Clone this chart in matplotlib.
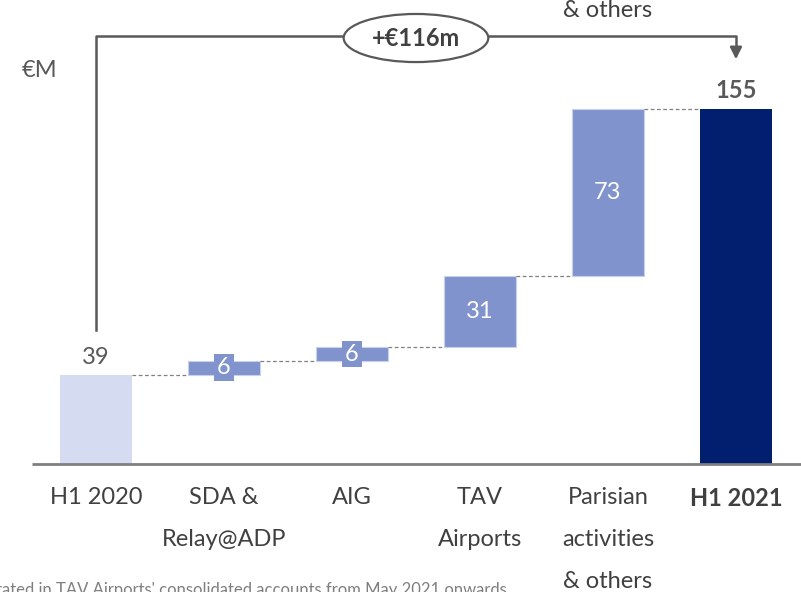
import matplotlib.pyplot as plt
from matplotlib.patches import Ellipse

plt.rcParams['font.family'] = ['Lato', 'DejaVu Sans']

categories = ["H1 2020", "SDA &\nRelay@ADP", "AIG", "TAV\nAirports",
              "Parisian\nactivities\n& others", "H1 2021"]
start_value = 39
deltas = [6, 6, 31, 73]
end_value = 155
total_change = "+€116m"
unit = "€M"
footnote = "AIG integrated in TAV Airports' consolidated accounts from May 2021 onwards"

light = "#D5DBF0"
mid = "#8093CD"
dark = "#021E6E"
grey = "#595959"
fs = 17

fig = plt.figure(figsize=(8.01, 5.92), dpi=100)
ax = fig.add_axes([0, 0, 1, 1])
ax.set_xlim(-0.75, 5.508)
ax.set_ylim(-55.9, 202.6)
ax.axis("off")

w = 0.5625
n = len(categories)

# start and end bars
ax.bar(0, start_value, width=w, color=light)
ax.bar(n - 1, end_value, width=w, color=dark)
ax.text(0, start_value + 3, str(start_value), ha="center", va="bottom",
        fontsize=fs, color=grey)
ax.text(n - 1, end_value + 3, str(end_value), ha="center", va="bottom",
        fontsize=fs, color=grey, fontweight="bold")

# floating delta bars
level = start_value
for i, d in enumerate(deltas, start=1):
    ax.bar(i, d, bottom=level, width=w, color=mid, edgecolor="#C8D0EC", lw=0.8)
    mid_y = level + d / 2
    box = dict(boxstyle="square,pad=0.12", fc=mid, ec="none") if d < 10 else None
    ax.text(i, mid_y, str(d), ha="center", va="center", fontsize=fs,
            color="white", bbox=box)
    # connector from previous bar
    ax.plot([i - 1 + w / 2, i - w / 2], [level, level], ls=(0, (3, 2)),
            color="#808080", lw=0.9)
    level += d
ax.plot([n - 2 + w / 2, n - 1 - w / 2], [level, level], ls=(0, (3, 2)),
        color="#808080", lw=0.9)

# baseline
ax.plot([-0.5, 5.6], [0, 0], color="#7F7F7F", lw=2, solid_capstyle="butt")

# category labels
for i, c in enumerate(categories):
    ax.text(i, -10.2, c, ha="center", va="top", fontsize=fs, color="#404040",
            linespacing=2.22, fontweight="bold" if i == n - 1 else "normal")

# bracket with total change
top = 186.9
ax.plot([0, 0, n - 1, n - 1], [58.5, top, top, 181], color=grey, lw=1.8)
ax.annotate("", xy=(n - 1, 175.5), xytext=(n - 1, 182),
            arrowprops=dict(arrowstyle="-|>,head_width=0.35,head_length=0.7",
                            color=grey, lw=1.8))
ax.add_patch(Ellipse((2.5, 186), 1.13, 21.0, fc="white", ec=grey, lw=1.6,
                     zorder=3))
ax.text(2.5, 186, total_change, ha="center", va="center", fontsize=fs,
        fontweight="bold", color="#404040", zorder=4)

ax.text(-0.44, 172, unit, ha="center", va="center", fontsize=fs, color=grey)

# cropped text at the edges of the slide
ax.text(4, 193.4, "& others", ha="center", va="bottom", fontsize=fs,
        color="#404040")
ax.text(3.21, -55.0, footnote, ha="right", va="center", fontsize=12,
        color="#7F7F7F")

fig.savefig("out.png", dpi=100)
